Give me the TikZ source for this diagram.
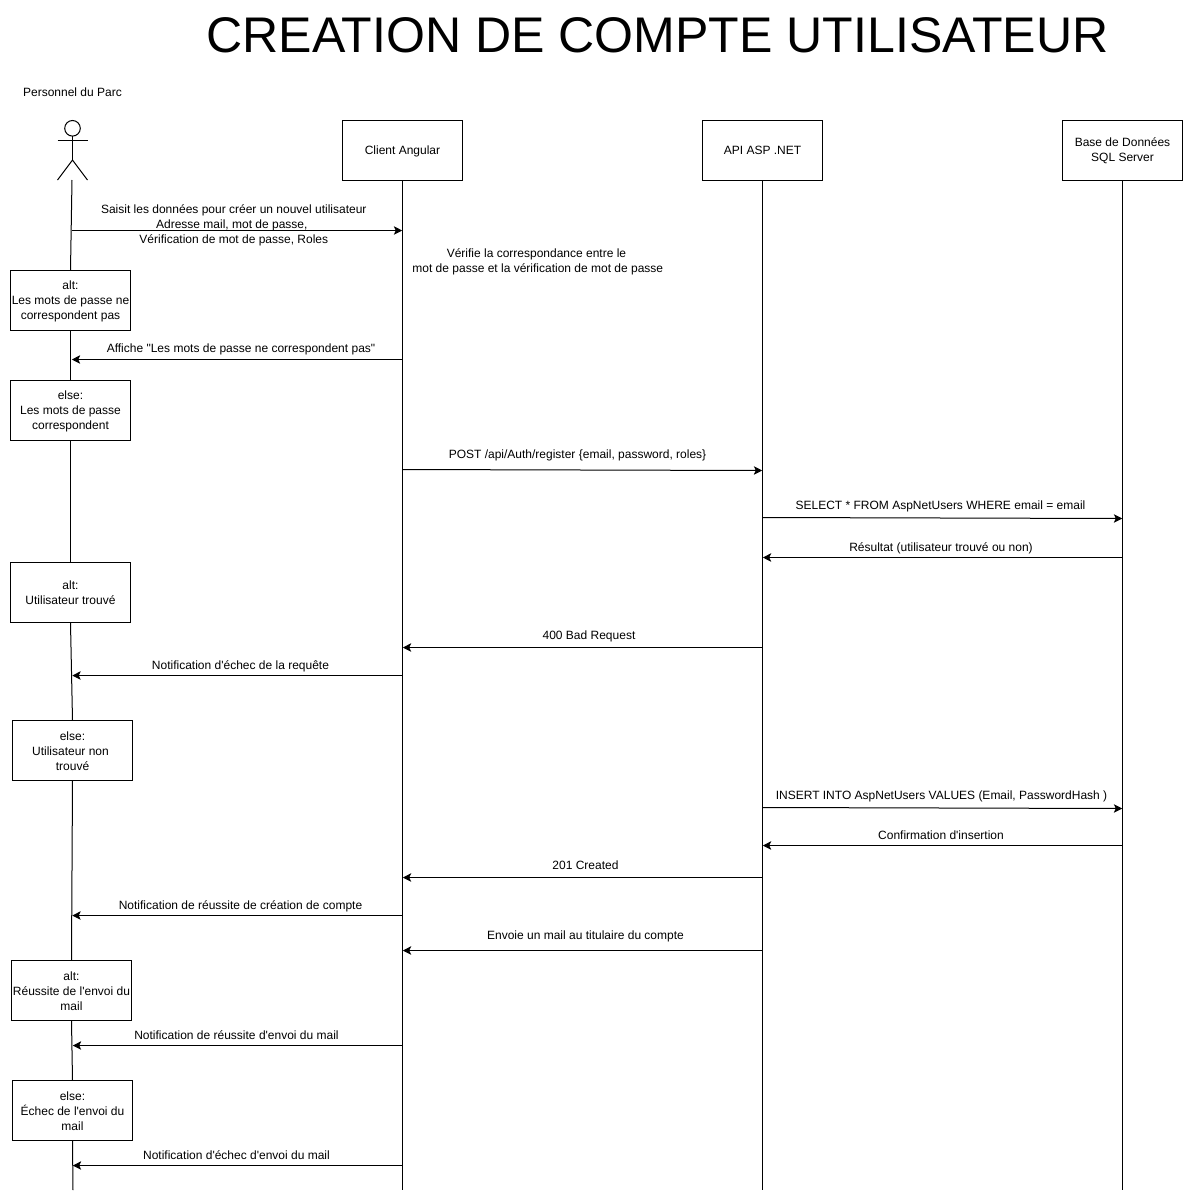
\documentclass[tikz,border=0pt]{standalone}
\usepackage{fontspec}
\usetikzlibrary{arrows.meta}
\setmainfont{Liberation Sans}
\newfontfamily\lib{Liberation Sans}
\tikzset{
  x=0.75pt,y=-0.75pt,
  every path/.style={line width=0.75pt},
  lbl/.style={font=\lib\fontsize{9}{11.25}\selectfont,align=center,inner sep=0pt,text height=6.6pt,text depth=1.9pt},
  mlbl/.style={font=\lib\fontsize{9}{11.25}\selectfont,align=center,inner sep=0pt},
  box/.style={draw=black,fill=white,line width=0.75pt,minimum width=90pt,minimum height=45pt,inner sep=0pt,font=\lib\fontsize{9}{11.25}\selectfont,align=center,execute at begin node={\rule{0pt}{8.6pt}},execute at end node={\rule[-2pt]{0pt}{2pt}}},
  frag/.style={draw=black,fill=white,line width=0.75pt,minimum width=90pt,minimum height=45pt,inner sep=0pt},
  fragtxt/.style={mlbl,yshift=-0.4pt},
  life/.style={draw=black,line width=0.75pt},
  msg/.style={draw=black,line width=0.75pt,-{Stealth[length=6.3pt,width=6.3pt,inset=1.5pt]},shorten >=0.2pt}
}
\begin{document}
\begin{tikzpicture}
\useasboundingbox (0,0) rectangle (1183,1192);
% title
\node[inner sep=0pt,font=\lib\fontsize{37.55}{42}\selectfont] (title) at (657.5,35.5) {CREATION DE COMPTE UTILISATEUR};
\node[lbl] (actorname) at (72.5,93.5) {Personnel du Parc};
% actor
\draw (72.5,128.3) circle (7.8);
\coordinate (bodytop) at (72.5,136);
\coordinate (hip) at (72.5,160);
\coordinate (actorfoot) at (72,180);
\draw (bodytop) -- (hip);
\draw (57.5,140.5) -- (87.5,140.5);
\draw (57.5,180) -- (hip) -- (87.5,180);
% participants
\node[box] (client) at (402.5,150.5) {Client Angular};
\node[box] (api) at (762.5,150.5) {API ASP .NET};
\node[box] (db) at (1122.5,150.5) {Base de Données\\SQL Server};
% fragments
\node[frag,label={[fragtxt,name=alt1t]center:{alt:\\Les mots de passe ne\\correspondent pas}}] (alt1) at (70.5,300.5) {};
\node[frag,label={[fragtxt,name=else1t]center:{else:\\Les mots de passe\\correspondent}}] (else1) at (70.5,410.5) {};
\node[frag,label={[fragtxt,name=alt2t]center:{alt:\\Utilisateur trouvé}}] (alt2) at (70.5,592.5) {};
\node[frag,label={[fragtxt,name=else2t]center:{else:\\Utilisateur non\rule{3pt}{0pt}\\trouvé}}] (else2) at (72.5,750.5) {};
\node[frag,label={[fragtxt,name=alt3t]center:{alt:\\Réussite de l'envoi du\\mail}}] (alt3) at (71.5,990.5) {};
\node[frag,label={[fragtxt,name=else3t]center:{else:\\Échec de l'envoi du\\mail}}] (else3) at (72.5,1110.5) {};
% lifelines
\coordinate (clientend) at (402.5,1190);
\coordinate (apiend) at (762.5,1190);
\coordinate (dbend) at (1122.5,1190);
\coordinate (actorend) at (73,1190);
\draw[life] (client.south) -- (clientend);
\draw[life] (api.south) -- (apiend);
\draw[life] (db.south) -- (dbend);
\draw[life] (actorfoot) -- (alt1.north);
\draw[life] (alt1.south) -- (else1.north);
\draw[life] (else1.south) -- (alt2.north);
\draw[life] (alt2.south) -- (else2.north);
\draw[life] (else2.south) -- (alt3.north);
\draw[life] (alt3.south) -- (else3.north);
\draw[life] (else3.south) -- (actorend);
% message end points
\coordinate (a1) at (72,230.5);   \coordinate (c1) at (402.5,230.5);
\coordinate (c2) at (402.5,359.5);\coordinate (a2) at (71.5,359.5);
\coordinate (c3) at (402.5,469.5);\coordinate (p3) at (762.5,470.5);
\coordinate (p4) at (762.5,517.5);\coordinate (d4) at (1122.5,518.5);
\coordinate (d5) at (1122.5,557.5);\coordinate (p5) at (762.5,557.5);
\coordinate (p6) at (762.5,647.5);\coordinate (c6) at (402.5,647.5);
\coordinate (c7) at (402.5,675.5);\coordinate (a7) at (72,675.5);
\coordinate (p8) at (762.5,807.5);\coordinate (d8) at (1122.5,808.5);
\coordinate (d9) at (1122.5,845.5);\coordinate (p9) at (762.5,845.5);
\coordinate (p10) at (762.5,877.5);\coordinate (c10) at (402.5,877.5);
\coordinate (c11) at (402.5,915.5);\coordinate (a11) at (72,915.5);
\coordinate (p12) at (762.5,950.5);\coordinate (c12) at (402.5,950.5);
\coordinate (c13) at (402.5,1045.5);\coordinate (a13) at (72.5,1045.5);
\coordinate (c14) at (402.5,1165.5);\coordinate (a14) at (72.5,1165.5);
% messages
\draw[msg] (a1) -- (c1);
\draw[msg] (c2) -- (a2);
\draw[msg] (c3) -- (p3);
\draw[msg] (p4) -- (d4);
\draw[msg] (d5) -- (p5);
\draw[msg] (p6) -- (c6);
\draw[msg] (c7) -- (a7);
\draw[msg] (p8) -- (d8);
\draw[msg] (d9) -- (p9);
\draw[msg] (p10) -- (c10);
\draw[msg] (c11) -- (a11);
\draw[msg] (p12) -- (c12);
\draw[msg] (c13) -- (a13);
\draw[msg] (c14) -- (a14);
% labels
\node[mlbl] (l1) at (233.8,225.5) {Saisit les données pour créer un nouvel utilisateur\\Adresse mail, mot de passe,\rule{3pt}{0pt}\\Vérification de mot de passe, Roles};
\node[mlbl] (lcheck) at (537.8,262) {Vérifie la correspondance entre le\phantom{i}\\mot de passe et la vérification de mot de passe};
\node[lbl] (l2) at (241,349.5) {Affiche "Les mots de passe ne correspondent pas"};
\node[lbl] (l3) at (577.5,455.5) {POST /api/Auth/register \{email, password, roles\}};
\node[lbl] (l4) at (940.5,506) {SELECT * FROM AspNetUsers WHERE email = email};
\node[lbl] (l5) at (941,548) {Résultat (utilisateur trouvé ou non)};
\node[lbl] (l6) at (589,636) {400 Bad Request};
\node[lbl] (l7) at (240.5,666) {Notification d'échec de la requête};
\node[lbl] (l8) at (941.5,796) {INSERT INTO AspNetUsers VALUES (Email, PasswordHash )};
\node[lbl] (l9) at (941,836) {Confirmation d'insertion};
\node[lbl] (l10) at (585.5,866) {201 Created};
\node[lbl] (l11) at (240.5,906) {Notification de réussite de création de compte};
\node[lbl] (l12) at (585.5,936) {Envoie un mail au titulaire du compte};
\node[lbl] (l13) at (236.5,1036) {Notification de réussite d'envoi du mail};
\node[lbl] (l14) at (236.5,1156) {Notification d'échec d'envoi du mail};
\end{tikzpicture}
\end{document}
